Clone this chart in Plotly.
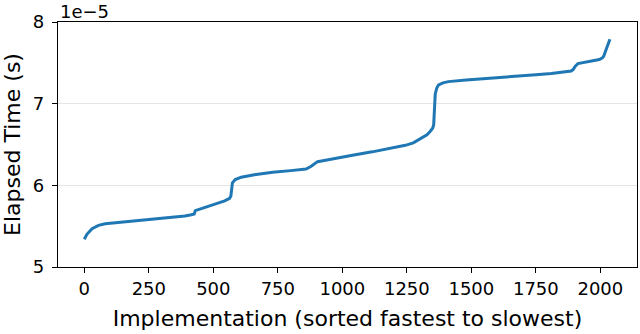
import plotly.graph_objects as go

# sorted implementation index vs elapsed time (seconds)
impl_index = [0, 10, 30, 55, 81, 150, 222, 300, 390, 415, 426, 430, 450, 479, 510,
              544, 563, 568, 571, 574, 585, 608, 659, 730, 800, 859, 878, 892, 904,
              940, 987, 1050, 1116, 1180, 1244, 1275, 1296, 1315, 1328, 1340, 1350,
              1354, 1357, 1360, 1366, 1373, 1390, 1411, 1480, 1553, 1620, 1681, 1750,
              1810, 1860, 1887, 1895, 1903, 1913, 1960, 1996, 2008, 2013, 2022, 2030, 2037]
elapsed = [5.34e-5, 5.40e-5, 5.47e-5, 5.51e-5, 5.53e-5, 5.55e-5, 5.57e-5, 5.59e-5,
           5.625e-5, 5.64e-5, 5.65e-5, 5.69e-5, 5.71e-5, 5.74e-5, 5.77e-5, 5.81e-5,
           5.84e-5, 5.87e-5, 5.95e-5, 6.03e-5, 6.07e-5, 6.10e-5, 6.13e-5, 6.16e-5,
           6.18e-5, 6.20e-5, 6.23e-5, 6.26e-5, 6.29e-5, 6.31e-5, 6.34e-5, 6.375e-5,
           6.41e-5, 6.45e-5, 6.49e-5, 6.52e-5, 6.56e-5, 6.59e-5, 6.62e-5, 6.66e-5,
           6.70e-5, 6.74e-5, 6.90e-5, 7.12e-5, 7.19e-5, 7.23e-5, 7.255e-5, 7.27e-5,
           7.29e-5, 7.31e-5, 7.325e-5, 7.34e-5, 7.355e-5, 7.37e-5, 7.39e-5, 7.40e-5,
           7.42e-5, 7.46e-5, 7.49e-5, 7.52e-5, 7.54e-5, 7.56e-5, 7.58e-5, 7.66e-5,
           7.72e-5, 7.79e-5]

x_ticks = [0, 250, 500, 750, 1000, 1250, 1500, 1750, 2000]
y_ticks = [5e-5, 6e-5, 7e-5, 8e-5]
y_tick_labels = ["5", "6", "7", "8"]

font = dict(family="DejaVu Sans", size=18, color="black")

fig = go.Figure()
fig.add_trace(go.Scatter(
    x=impl_index,
    y=elapsed,
    mode="lines",
    line=dict(color="#1f77b4", width=3),
    showlegend=False
))

fig.update_layout(
    width=640,
    height=334,
    margin=dict(l=58, r=3, t=22, b=67),
    paper_bgcolor="white",
    plot_bgcolor="white",
    font=font,
    xaxis=dict(
        range=[-102, 2142],
        tickvals=x_ticks,
        showgrid=False,
        zeroline=False,
        showline=True,
        linecolor="black",
        linewidth=1.2,
        mirror=True,
        ticks="outside",
        ticklen=5,
        tickcolor="black",
        automargin=False,
        title=dict(text="Implementation (sorted fastest to slowest)", standoff=12),
    ),
    yaxis=dict(
        range=[5e-5, 8e-5],
        tickvals=y_ticks,
        ticktext=y_tick_labels,
        showgrid=True,
        gridcolor="#e5e5e5",
        gridwidth=1,
        zeroline=False,
        showline=True,
        linecolor="black",
        linewidth=1.2,
        mirror=True,
        ticks="outside",
        ticklen=5,
        tickcolor="black",
        ticklabelstandoff=4,
        automargin=False,
        title=dict(text="Elapsed Time (s)", standoff=9),
    ),
    annotations=[dict(
        text="1e\u22125",
        xref="paper", yref="paper",
        x=0, y=1,
        xanchor="left", yanchor="bottom",
        showarrow=False,
        font=font,
        yshift=-2,
    )],
)

# drop the browser's default body margin so the figure sits at the page corner
fig.write_html(
    "out.html",
    config={"displayModeBar": False},
    post_script="document.body.style.margin = '0';",
)
